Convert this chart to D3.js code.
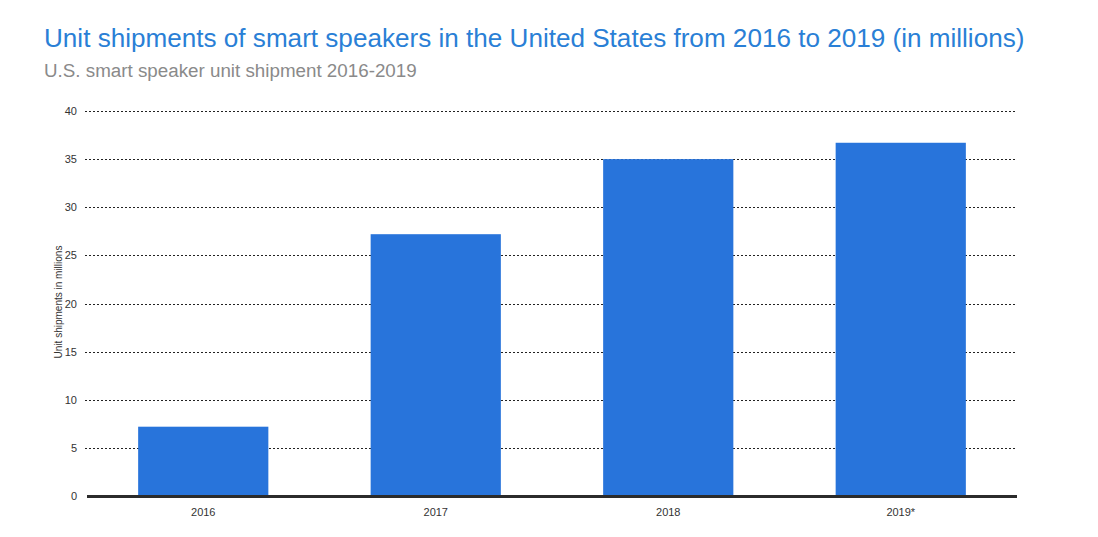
<!DOCTYPE html>
<html><head><meta charset="utf-8">
<script src="https://cdn.jsdelivr.net/npm/d3@7"></script>
<style>body{margin:0;background:#fff;} text{font-family:"Liberation Sans",Arial,sans-serif;}</style>
</head><body>
<svg id="c" width="1098" height="537"></svg>
<script>
const categories = ["2016", "2017", "2018", "2019*"];
const values = [7.2, 27.2, 35.0, 36.7];
const yTicks = [0, 5, 10, 15, 20, 25, 30, 35, 40];
const title = "Unit shipments of smart speakers in the United States from 2016 to 2019 (in millions)";
const subtitle = "U.S. smart speaker unit shipment 2016-2019";
const yTitle = "Unit shipments in millions";

const svg = d3.select("#c");
const mL = 87, mR = 1017, mT = 111, mB = 496;
const x = d3.scaleBand().domain(categories).range([mL, mR]).paddingInner(0.44).paddingOuter(0.22);
const y = d3.scaleLinear().domain([0, 40]).range([mB, mT]);

svg.append("text").attr("x", 44).attr("y", 47).attr("font-size", 26.1).attr("fill", "#2a7fd6").text(title);
svg.append("text").attr("x", 44).attr("y", 77).attr("font-size", 18.8).attr("fill", "#8a8a8a").text(subtitle);

// grid
svg.append("g").selectAll("line").data(yTicks.filter(d => d > 0)).join("line")
  .attr("x1", 85).attr("x2", mR).attr("y1", d => Math.round(y(d)) + 0.5).attr("y2", d => Math.round(y(d)) + 0.5)
  .attr("stroke", "#222").attr("stroke-width", 1).attr("stroke-dasharray", "2,2");

// y axis labels
const yAxis = d3.axisLeft(y).tickValues(yTicks).tickSize(0).tickPadding(0);
const gy = svg.append("g").attr("transform", `translate(${77},0)`).call(yAxis);
gy.select(".domain").remove();
gy.selectAll("text").attr("font-size", 11).attr("fill", "#333").attr("font-family", "Liberation Sans, Arial, sans-serif");

svg.append("text").attr("transform", `translate(62,302) rotate(-90)`).attr("text-anchor", "middle")
  .attr("font-size", 10).attr("fill", "#333").text(yTitle);

// bars
svg.append("g").selectAll("rect").data(values).join("rect")
  .attr("x", (d, i) => x(categories[i])).attr("width", x.bandwidth())
  .attr("y", d => y(d)).attr("height", d => y(0) - y(d)).attr("fill", "#2874db");

// x axis
const xAxis = d3.axisBottom(x).tickSize(0).tickPadding(12);
const gx = svg.append("g").attr("transform", `translate(0,${mB})`).call(xAxis);
gx.select(".domain").remove();
gx.selectAll("text").attr("font-size", 11).attr("fill", "#333").attr("font-family", "Liberation Sans, Arial, sans-serif");
svg.append("line").attr("x1", mL).attr("x2", mR).attr("y1", mB + 0.5).attr("y2", mB + 0.5)
  .attr("stroke", "#2b2b2b").attr("stroke-width", 3);
</script>
</body></html>
